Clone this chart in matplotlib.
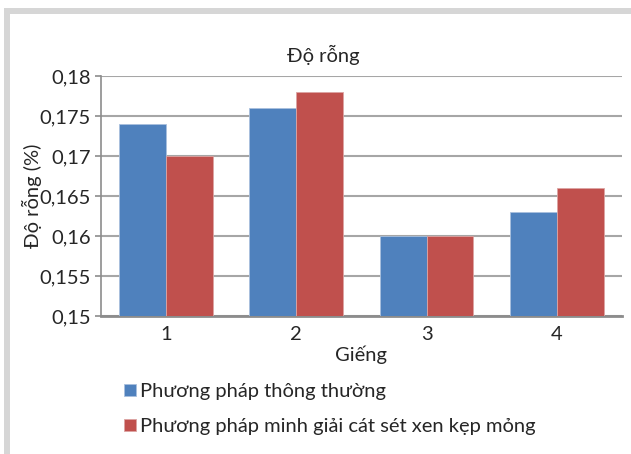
import matplotlib
matplotlib.use("Agg")
import matplotlib.pyplot as plt
import numpy as np
from matplotlib.patches import Rectangle

plt.rcParams['font.family'] = ['Lato', 'DejaVu Sans']

wells = ['1', '2', '3', '4']
conventional = [0.174, 0.176, 0.160, 0.163]
thin_bed = [0.170, 0.178, 0.160, 0.166]
yticks = [0.15, 0.155, 0.16, 0.165, 0.17, 0.175, 0.18]
ytick_labels = ['0,15', '0,155', '0,16', '0,165', '0,17', '0,175', '0,18']

blue = '#4f81bd'
red = '#c0504d'
text_col = '#262626'
fs = 14.5

W, H = 631, 454
fig = plt.figure(figsize=(W / 100, H / 100), dpi=100)

# light grey frame on the top and left edges
fig.patches.append(Rectangle((4 / W, 0), 6 / W, 1 - 8 / H, transform=fig.transFigure,
                             facecolor='#d6d6d6', edgecolor='none'))
fig.patches.append(Rectangle((4 / W, 1 - 14 / H), 1, 6 / H, transform=fig.transFigure,
                             facecolor='#d6d6d6', edgecolor='none'))

ax = fig.add_axes([100.7 / W, 138 / H, 521.3 / W, 240 / H])

x = np.arange(len(wells))
bw = 0.36
b1 = ax.bar(x - bw / 2, conventional, bw, color=blue, edgecolor='#a9c0dd', linewidth=0.6,
            label='Phương pháp thông thường', zorder=3)
b2 = ax.bar(x + bw / 2, thin_bed, bw, color=red, edgecolor='#dca4a3', linewidth=0.6,
            label='Phương pháp minh giải cát sét xen kẹp mỏng', zorder=3)

ax.set_xlim(-0.5, len(wells) - 0.5)
ax.set_ylim(0.15, 0.18)
ax.set_xticks(x)
ax.set_xticklabels(wells)
ax.set_yticks(yticks)
ax.set_yticklabels(ytick_labels)
ax.tick_params(axis='x', length=0, pad=7, labelsize=fs, labelcolor=text_col)
ax.tick_params(axis='y', length=4, width=1.2, color='#8c8c8c', pad=3, labelsize=fs,
               labelcolor=text_col)

ax.grid(axis='y', color='#a6a6a6', linewidth=1.5, zorder=0)
for side in ['top', 'right']:
    ax.spines[side].set_visible(False)
ax.spines['left'].set_color('#8c8c8c')
ax.spines['left'].set_linewidth(1.2)
ax.spines['bottom'].set_color('#8c8c8c')
ax.spines['bottom'].set_linewidth(2)

ax.text(0.4265, 1 + 21 / 240, 'Độ rỗng', transform=ax.transAxes, ha='center', va='center',
        fontsize=fs, color=text_col)
ax.set_xlabel('Giếng', fontsize=fs, color=text_col, labelpad=2)
ax.set_ylabel('Độ rỗng (%)', fontsize=fs, color=text_col, labelpad=-2)

fig.legend(handles=[b1, b2], loc='upper left', bbox_to_anchor=(114 / W, 1 - 373 / H),
           frameon=False, fontsize=fs, handlelength=0.6, handleheight=0.6,
           handletextpad=0.2, labelspacing=0.9, borderpad=0, labelcolor=text_col)

fig.savefig('out.png', dpi=100)
